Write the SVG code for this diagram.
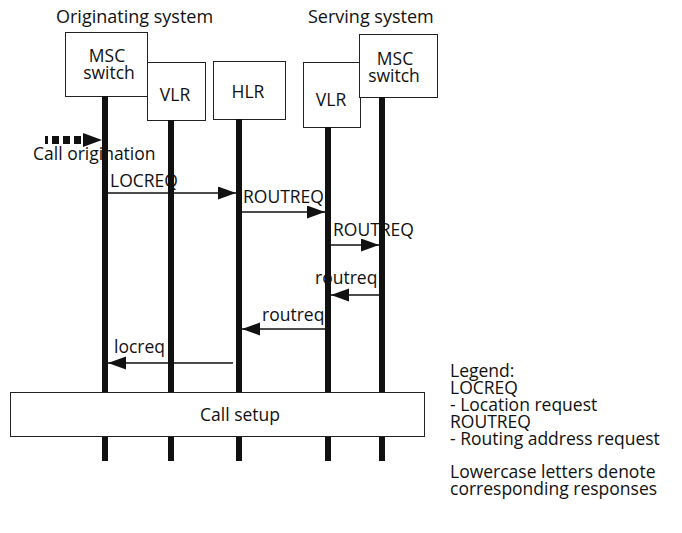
<svg xmlns="http://www.w3.org/2000/svg" width="682" height="533" viewBox="0 0 682 533">
<style>
text{font-family:"Open Sans","Noto Sans","Liberation Sans",sans-serif;font-size:17.5px;fill:#111}
.box{fill:#fff;stroke:#222;stroke-width:1}
.life{stroke:#111;stroke-width:6;fill:none}
.msg{stroke:#111;stroke-width:1.3;fill:none;marker-end:url(#ah)}
.mid{text-anchor:middle}
</style>
<defs>
<marker id="ah" markerUnits="userSpaceOnUse" markerWidth="19" markerHeight="14" refX="18" refY="6.5" orient="auto" viewBox="0 0 19 14">
<path d="M0,0 L18,6.5 L0,13 Z" fill="#111"/>
</marker>
</defs>
<rect width="682" height="533" fill="#fff"/>

<text x="56" y="23" style="font-size:18px">Originating system</text>
<text x="308" y="23" style="font-size:18px">Serving system</text>

<g id="msc1">
<rect class="box" x="65.5" y="32.5" width="82" height="64"/>
<text class="mid" x="107" y="62">MSC</text>
<text class="mid" x="109" y="79">switch</text>
</g>
<g id="vlr1">
<rect class="box" x="147.5" y="62.5" width="58" height="58"/>
<text class="mid" x="175" y="101">VLR</text>
</g>
<g id="hlr">
<rect class="box" x="213.5" y="61.5" width="72" height="58"/>
<text class="mid" x="248" y="98">HLR</text>
</g>
<g id="vlr2">
<rect class="box" x="303.5" y="62.5" width="57" height="65"/>
<text class="mid" x="331" y="106">VLR</text>
</g>
<g id="msc2">
<rect class="box" x="359.5" y="34.5" width="78" height="63"/>
<text class="mid" x="395" y="65">MSC</text>
<text class="mid" x="394" y="82">switch</text>
</g>

<g id="labels">
<text x="33" y="160">Call origination</text>
<text x="110" y="187">LOCREQ</text>
<text x="243" y="203">ROUTREQ</text>
<text x="333" y="236">ROUTREQ</text>
<text x="315" y="284">routreq</text>
<text x="262" y="321">routreq</text>
<text x="114" y="353">locreq</text>
</g>

<g id="lifelines">
<line class="life" x1="105" y1="96" x2="105" y2="461"/>
<line class="life" x1="171" y1="120" x2="171" y2="461"/>
<line class="life" x1="239" y1="119" x2="239" y2="461"/>
<line class="life" x1="328" y1="127" x2="328" y2="461"/>
<line class="life" x1="382" y1="97" x2="382" y2="461"/>
</g>

<g id="connectors">
<g id="call-origination" fill="#111">
<rect x="45" y="136" width="3" height="8"/>
<rect x="52" y="136" width="7" height="8"/>
<rect x="63" y="136" width="7" height="8"/>
<rect x="74" y="136" width="7" height="8"/>
<path d="M83,133 L102,140 L83,147 Z"/>
</g>
<line class="msg" x1="108" y1="193" x2="236" y2="193"/>
<line class="msg" x1="242" y1="212" x2="325" y2="212"/>
<line class="msg" x1="331" y1="245" x2="379" y2="245"/>
<line class="msg" x1="379" y1="295" x2="331" y2="295"/>
<line class="msg" x1="325" y1="329" x2="242" y2="329"/>
<line class="msg" x1="233" y1="363" x2="108" y2="363"/>
</g>

<g id="callsetup">
<rect class="box" x="10.5" y="392.5" width="414" height="44"/>
<text class="mid" x="240" y="421">Call setup</text>
</g>

<g id="legend">
<text x="450" y="377">Legend:</text>
<text x="450" y="394">LOCREQ</text>
<text x="450" y="411">- Location request</text>
<text x="450" y="428">ROUTREQ</text>
<text x="450" y="445">- Routing address request</text>
<text x="450" y="478">Lowercase letters denote</text>
<text x="450" y="495">corresponding responses</text>
</g>
</svg>
